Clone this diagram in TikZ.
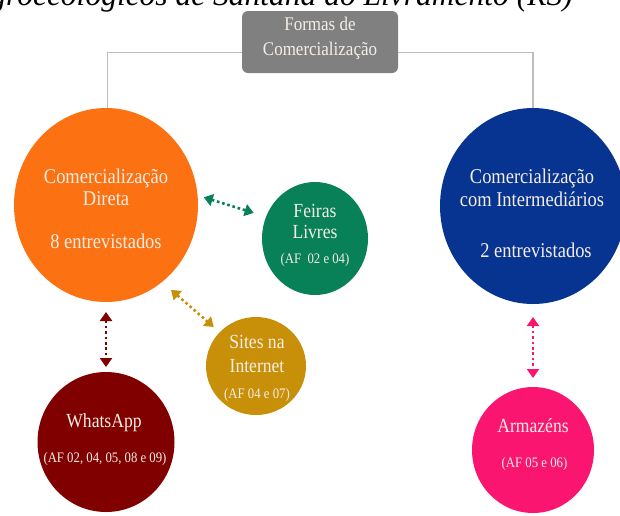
\documentclass[tikz,border=0pt]{standalone}
\usepackage{fontspec}
\setmainfont{Liberation Serif}[FakeStretch=0.88]
\newfontfamily\capfont{Liberation Serif}
\usetikzlibrary{shapes.geometric,arrows.meta}
\definecolor{orangeC}{RGB}{252,113,18}
\definecolor{greenC}{RGB}{8,128,88}
\definecolor{goldC}{RGB}{200,144,8}
\definecolor{redC}{RGB}{128,0,0}
\definecolor{blueC}{RGB}{6,52,144}
\definecolor{pinkC}{RGB}{250,22,112}
\definecolor{boxC}{RGB}{128,128,128}
\definecolor{lineC}{RGB}{190,190,190}
\definecolor{txtC}{RGB}{245,238,230}
\tikzset{
  bubble/.style={ellipse, draw=none, inner sep=0pt, outer sep=0pt},
  lbl/.style={text=txtC, anchor=base, inner sep=0pt, outer sep=0pt},
  bigf/.style={font=\fontsize{21}{24}\selectfont},
  midf/.style={font=\fontsize{20}{23}\selectfont},
  boxf/.style={font=\fontsize{19.3}{22}\selectfont},
  smallf/.style={font=\fontsize{14.5}{17}\selectfont},
  link/.style={draw=lineC, line width=1.4pt},
  dotlink/.style={line width=2.6pt, dash pattern=on 2.6pt off 2.8pt,
    {Triangle[length=9pt,width=12pt]}-{Triangle[length=9pt,width=12pt]}}
}
\begin{document}
\begin{tikzpicture}[x=1pt,y=-1pt]
\path[use as bounding box] (0,0) rectangle (620,515);
\clip (0,0) rectangle (620,515);
% cut caption line at the top
\node[anchor=base east, inner sep=0pt, font=\capfont\itshape\fontsize{31.5}{35}\selectfont] (cap) at (573,5) {agroecológicos de Santana do Livramento (RS)};
% top box
\node[draw=none, fill=boxC, rounded corners=6pt, minimum width=156pt, minimum height=62pt, inner sep=0pt] (box) at (320,42) {};
\node[lbl, boxf] (box1) at (320,30) {Formas de};
\node[lbl, boxf] (box2) at (320,55) {Comercialização};
% circles
\node[bubble, fill=orangeC, minimum width=184pt, minimum height=194pt] (direta) at (106,205) {};
\node[bubble, fill=blueC, minimum width=186pt, minimum height=196pt] (inter) at (533,206) {};
\node[bubble, fill=greenC, minimum width=106pt, minimum height=113pt] (feiras) at (315,238.5) {};
\node[bubble, fill=goldC, minimum width=100pt, minimum height=98pt] (sites) at (256,366) {};
\node[bubble, fill=redC, minimum width=137pt, minimum height=140pt] (whats) at (106,442) {};
\node[bubble, fill=pinkC, minimum width=122pt, minimum height=126pt] (arm) at (533,450) {};
% top connectors
\draw[link] ([yshift=-10.5pt]box.west) -| ([xshift=1.5pt]direta.north);
\draw[link] ([yshift=-10.5pt]box.east) -| (inter.north);
% labels
\node[lbl, bigf] (d1) at (106,183) {Comercialização};
\node[lbl, bigf] (d2) at (106,205) {Direta};
\node[lbl, bigf] (d3) at (106,248) {8 entrevistados};
\node[lbl, bigf] (i1) at (532,183) {Comercialização};
\node[lbl, bigf] (i2) at (532,206) {com Intermediários};
\node[lbl, bigf] (i3) at (536,257) {2 entrevistados};
\node[lbl, midf] (f1) at (315,217) {Feiras};
\node[lbl, midf] (f2) at (315,238) {Livres};
\node[lbl, smallf] (f3) at (315,263) {(AF\ \ 02 e 04)};
\node[lbl, midf] (s1) at (257,348) {Sites na};
\node[lbl, midf] (s2) at (257,372) {Internet};
\node[lbl, smallf] (s3) at (257,398) {(AF 04 e 07)};
\node[lbl, midf] (w1) at (104,427) {WhatsApp};
\node[lbl, smallf] (w2) at (105,462) {(AF 02, 04, 05, 08 e 09)};
\node[lbl, midf] (a1) at (533,432) {Armazéns};
\node[lbl, smallf] (a2) at (534.5,467) {(AF 05 e 06)};
% dotted double arrows
\draw[dotlink, greenC, shorten <=6.5pt, shorten >=13pt] (direta.6.4) -- (feiras.156.5);
\draw[dotlink, goldC, shorten <=12pt, shorten >=8pt] (direta.-54) -- (sites.137.8);
\draw[dotlink, redC, shorten <=10pt, shorten >=5pt] (direta.south) -- (whats.north);
\draw[dotlink, pinkC, shorten <=13pt, shorten >=9pt] (inter.south) -- (arm.north);
\end{tikzpicture}
\end{document}
